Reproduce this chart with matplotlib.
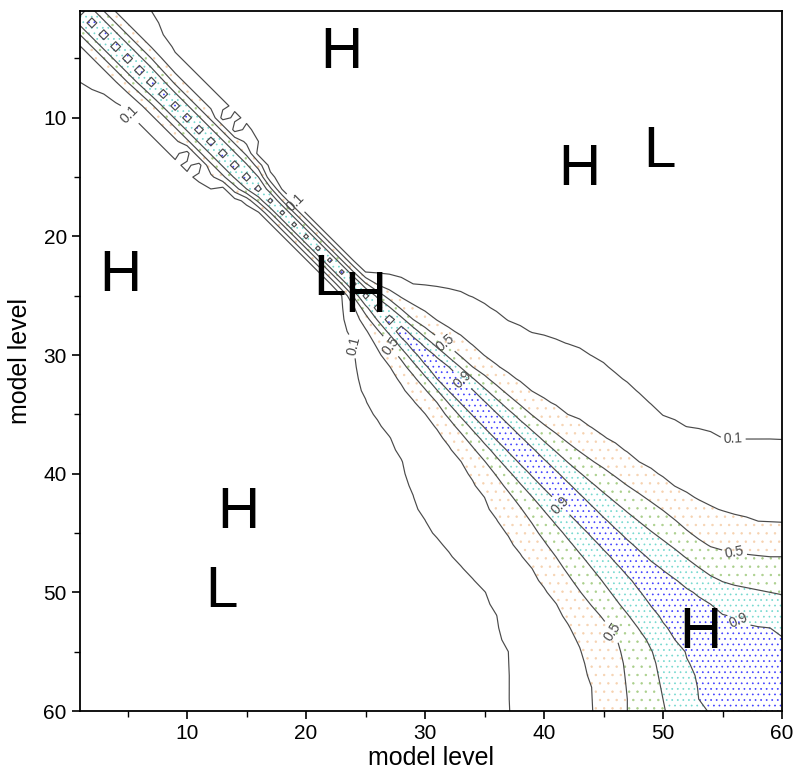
import numpy as np
import matplotlib
matplotlib.use("Agg")
import matplotlib.pyplot as plt

plt.rcParams["font.family"] = ["Liberation Sans", "DejaVu Sans"]

levels = np.arange(1, 61)

# distance (in model levels) from the diagonal at which the correlation
# of each level with the levels above it falls to 0.9, 0.5, 0.3 and 0.1
dist_09 = [0.45, 0.45, 0.45, 0.45, 0.45, 0.45, 0.45, 0.4, 0.4, 0.4,
           0.4, 0.4, 0.4, 0.4, 0.4, 0.4, 0.3, 0.3, 0.3, 0.3,
           0.3, 0.3, 0.3, 0.3, 0.3, 0.4, 0.5, 0.6, 0.7, 0.8,
           0.9, 1.0, 1.1, 1.15, 1.2, 1.25, 1.3, 1.3, 1.35, 1.35,
           1.4, 1.4, 1.4, 1.4, 1.4, 1.45, 1.5, 1.6, 1.7, 1.9,
           2.2, 2.5, 2.8, 3.0, 3.3, 3.9, 4.6, 5.3, 6.0, 6.6]
dist_05 = [2.0, 2.0, 2.0, 2.0, 2.0, 2.0, 2.0, 1.9, 1.8, 1.8,
           1.8, 1.8, 1.8, 1.8, 1.8, 1.6, 1.1, 1.0, 1.0, 1.0,
           1.0, 1.0, 1.0, 1.0, 1.05, 1.3, 1.6, 1.8, 2.0, 2.2,
           2.4, 2.6, 2.8, 3.0, 3.2, 3.35, 3.5, 3.7, 3.9, 4.1,
           4.3, 4.5, 4.8, 5.1, 5.4, 5.7, 6.0, 6.3, 6.6, 6.9,
           7.1, 7.2, 7.4, 7.8, 8.5, 9.3, 10.2, 11.1, 12.0, 13.0]
dist_03 = [2.8, 2.8, 2.8, 2.8, 2.8, 2.8, 2.8, 2.7, 2.6, 2.6,
           2.6, 2.6, 2.6, 2.6, 2.6, 2.4, 1.5, 1.4, 1.4, 1.4,
           1.4, 1.4, 1.4, 1.4, 1.45, 1.9, 2.4, 2.8, 3.2, 3.6,
           3.9, 4.2, 4.5, 4.7, 4.9, 5.1, 5.3, 5.6, 5.9, 6.2,
           6.6, 7.0, 7.4, 7.8, 8.1, 8.4, 8.7, 9.0, 9.3, 9.6,
           9.9, 10.3, 10.7, 11.2, 11.8, 12.4, 13.2, 14.0, 14.9, 15.8]
dist_01 = [6.0, 6.0, 6.0, 6.0, 6.0, 6.0, 6.0, 5.0, 4.3, 4.3,
           4.3, 4.3, 4.3, 4.3, 4.3, 4.0, 2.2, 1.8, 1.8, 1.8,
           1.8, 1.8, 1.8, 1.8, 2.0, 2.8, 3.6, 4.3, 5.0, 5.8,
           6.6, 7.4, 8.2, 8.8, 9.2, 9.5, 9.8, 10.3, 10.8, 11.5,
           12.2, 12.9, 13.4, 13.9, 14.2, 14.3, 14.5, 14.6, 14.7, 14.8,
           15.3, 15.9, 16.6, 17.3, 18.0, 18.9, 19.8, 20.8, 21.8, 22.7]

# isolated low values off the diagonal (level, level, correlation)
dips = [(10, 13, 0.03), (11, 14, 0.03), (13, 16, 0.04)]

label_pos_01 = [(4.9, 10.0), (18.9, 17.4), (24.3, 29.2), (55.9, 36.8)]
label_pos_05 = [(27.2, 29.2), (31.5, 29.2), (56.0, 46.7), (45.9, 53.2)]
label_pos_09 = [(33.1, 32.1), (41.6, 42.5), (56.5, 52.1)]

extrema = [("H", 23.0, 4.5), ("H", 43.0, 14.4), ("L", 49.7, 12.9),
           ("H", 4.4, 23.3), ("L", 22.0, 23.7), ("H", 25.0, 25.1),
           ("H", 14.3, 43.3), ("L", 12.9, 50.0), ("H", 53.1, 53.4)]

# build the correlation matrix
n = len(levels)
corr = np.zeros((n, n))
for a in range(n):
    for b in range(n):
        k = max(a, b)
        d = abs(a - b)
        corr[a, b] = np.interp(d, [0, dist_09[k], dist_05[k], dist_03[k], dist_01[k], 1.5 * dist_01[k]],
                               [1.0, 0.9, 0.5, 0.3, 0.1, 0.0])
for r, c, v in dips:
    corr[r - 1, c - 1] = v
    corr[c - 1, r - 1] = v

fig = plt.figure(figsize=(7.96, 7.72), dpi=100)
ax = fig.add_axes([80 / 796, 1 - 711 / 772, 702 / 796, 700 / 772])

# sparse dotted shading of the higher correlations
shades = [((0.3, 0.5), "#f6d2b0", ".."), ((0.5, 0.7), "#a9cf8a", ".."),
          ((0.7, 0.9), "#74d8cf", "..."), ((0.9, 1.01), "#4040ff", "...")]
plt.rcParams["hatch.linewidth"] = 0.5
for (lo, hi), col, hatch in shades:
    plt.rcParams["hatch.color"] = col
    ax.contourf(levels, levels, corr, levels=[lo, hi], colors="none", hatches=[hatch])

line_kw = dict(colors="#4a4a4a", linewidths=0.85)
ax.contour(levels, levels, corr, levels=[0.3, 0.7], **line_kw)
for lev, pos in [(0.1, label_pos_01), (0.5, label_pos_05), (0.9, label_pos_09)]:
    cs = ax.contour(levels, levels, corr, levels=[lev], **line_kw)
    ax.clabel(cs, manual=pos, fontsize=10, fmt="%.1f", inline_spacing=3)

for txt, x, y in extrema:
    ax.text(x, y, txt, fontsize=42, ha="center", va="center")

ax.set_xlim(1, 60)
ax.set_ylim(60, 1)
ax.set_xticks([10, 20, 30, 40, 50, 60])
ax.set_xticks([5, 15, 25, 35, 45, 55], minor=True)
ax.set_yticks([10, 20, 30, 40, 50, 60])
ax.set_yticks([5, 15, 25, 35, 45, 55], minor=True)
ax.tick_params(which="major", length=6, width=1.2, labelsize=15)
ax.tick_params(which="minor", length=4, width=1.0)
for s in ax.spines.values():
    s.set_linewidth(1.3)
ax.set_xlabel("model level", fontsize=18, labelpad=2)
ax.set_ylabel("model level", fontsize=18, labelpad=8)

fig.savefig("out.png", dpi=100)
